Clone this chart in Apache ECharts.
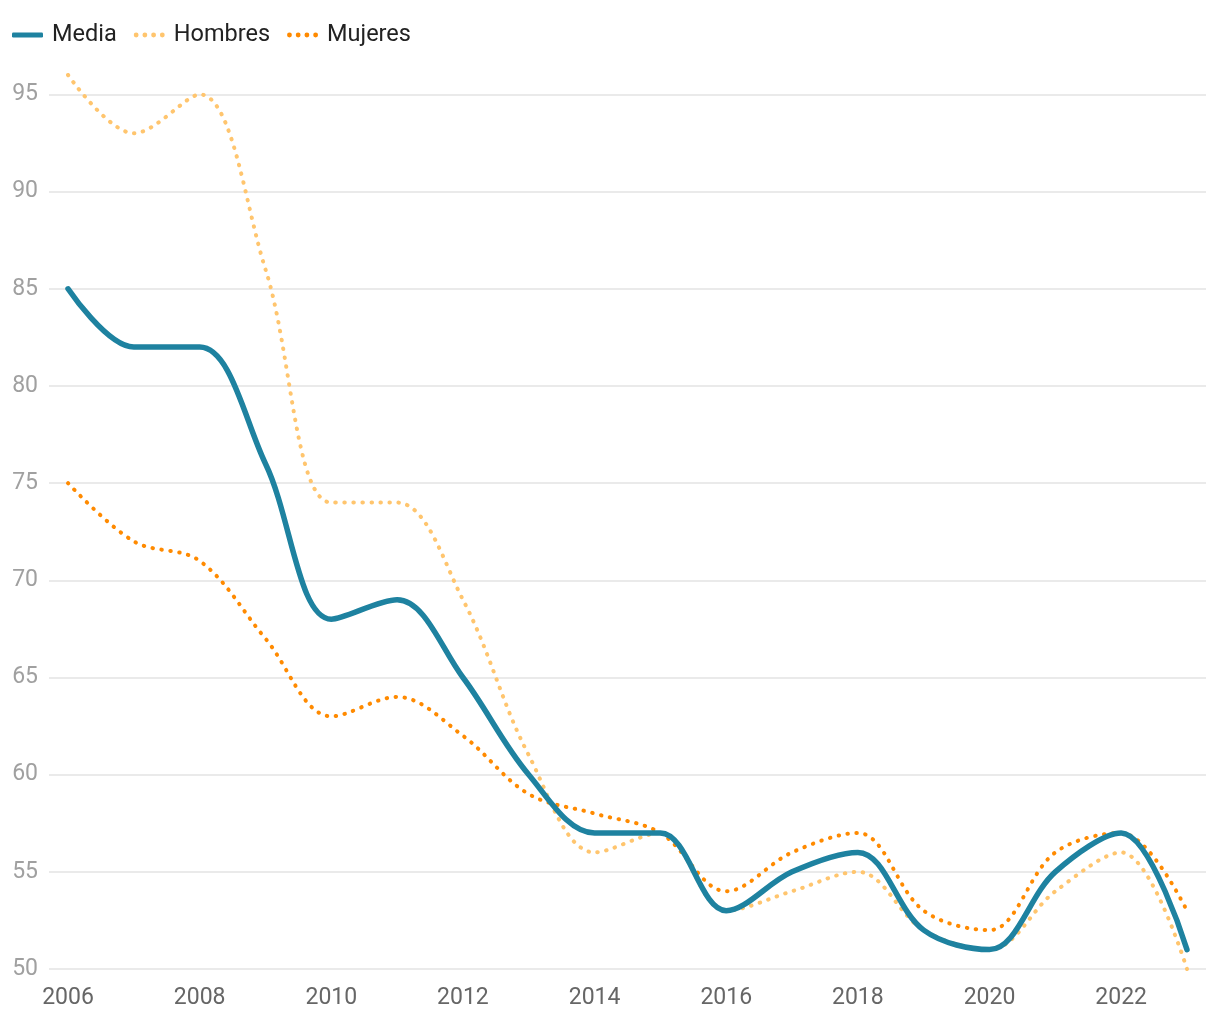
<!DOCTYPE html>
<html>
<head>
<meta charset="utf-8">
<script src="https://cdn.jsdelivr.net/npm/echarts@6/dist/echarts.min.js"></script>
<style>
html,body{margin:0;padding:0;background:#fff;}
#chart{width:1220px;height:1020px;}
</style>
</head>
<body>
<div id="chart"></div>
<script>
const years = [2006,2007,2008,2009,2010,2011,2012,2013,2014,2015,2016,2017,2018,2019,2020,2021,2022,2023];
const media   = [85,82,82,76,68,69,65,60,57,57,53,55,56,52,51,55,57,51];
const hombres = [96,93,95,86,74,74,69,61,56,57,53,54,55,52,51,54,56,50];
const mujeres = [75,72,71,67,63,64,62,59,58,57,54,56,57,53,52,56,57,53];
const xTicks = [2006,2008,2010,2012,2014,2016,2018,2020,2022];
const yTicks = [50,55,60,65,70,75,80,85,90,95];

const pair = arr => years.map((y,i)=>[y,arr[i]]);
const dotIcon = 'path://M0,2.5a2.5,2.5 0 1,0 5,0a2.5,2.5 0 1,0 -5,0M9,2.5a2.5,2.5 0 1,0 5,0a2.5,2.5 0 1,0 -5,0M18,2.5a2.5,2.5 0 1,0 5,0a2.5,2.5 0 1,0 -5,0M27,2.5a2.5,2.5 0 1,0 5,0a2.5,2.5 0 1,0 -5,0';
const chart = echarts.init(document.getElementById('chart'));
chart.setOption({
  animation:false,
  textStyle:{fontFamily:'Roboto'},
  legend:{
    left:12, top:23, padding:0, itemWidth:31, itemHeight:5, itemGap:17,
    textStyle:{fontSize:23.5, color:'#222', fontFamily:'Roboto', padding:[0,0,0,4]},
    data:[{name:'Media', icon:'roundRect'},{name:'Hombres', icon:dotIcon},{name:'Mujeres', icon:dotIcon}]
  },
  grid:{left:49, right:14, top:75, bottom:51, outerBoundsMode:'none'},
  xAxis:{
    type:'value', min:2005.711, max:2023.289,
    axisLine:{show:false}, axisTick:{show:false, customValues:xTicks}, splitLine:{show:false},
    axisLabel:{customValues:xTicks, formatter:v=>String(Math.round(v)), fontSize:23, color:'#666', margin:18, fontFamily:'Roboto'}
  },
  yAxis:{
    type:'value', min:50, max:96,
    axisLine:{show:false}, axisTick:{show:false, customValues:yTicks},
    splitLine:{show:true, lineStyle:{color:'#e3e3e3', width:1.5}},
    axisLabel:{customValues:yTicks, fontSize:23, color:'#a0a0a0', margin:11, fontFamily:'Roboto'}
  },
  series:[
    {name:'Hombres', type:'line', smooth:0.35, symbol:'none', data:pair(hombres), z:2,
     lineStyle:{color:'#ffc56e', width:4, type:[0.5,8.5], cap:'round'}, itemStyle:{color:'#ffc56e'}},
    {name:'Mujeres', type:'line', smooth:0.35, symbol:'none', data:pair(mujeres), z:3,
     lineStyle:{color:'#ff8a00', width:4, type:[0.5,8.5], cap:'round'}, itemStyle:{color:'#ff8a00'}},
    {name:'Media', type:'line', smooth:0.35, symbol:'none', data:pair(media), z:4,
     lineStyle:{color:'#1e82a0', width:5.5, cap:'round'}, itemStyle:{color:'#1e82a0'}}
  ]
});
</script>
</body>
</html>
